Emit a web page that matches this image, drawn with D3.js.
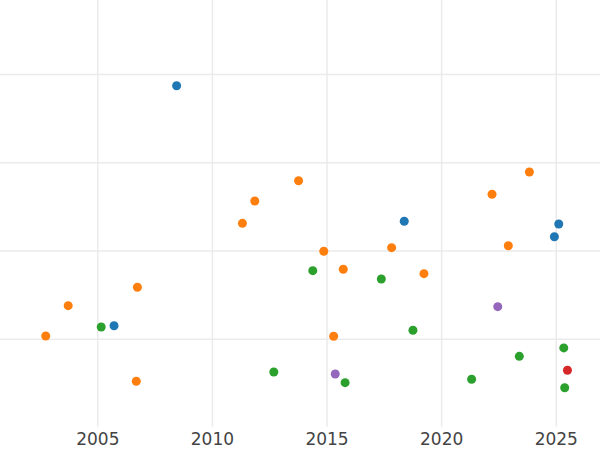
<!DOCTYPE html>
<html><head><meta charset="utf-8">
<script src="https://cdn.jsdelivr.net/npm/d3@7"></script>
<style>html,body{margin:0;padding:0;background:#fff;}svg{display:block;}</style>
</head><body>
<svg id="chart" width="600" height="450"></svg>
<script>
const seriesNames = ["A","B","C","D","E"];
const seriesColors = ["#1f77b4","#ff7f0e","#2ca02c","#d62728","#9467bd"];
const blueX = [2008.46, 2005.73, 2018.39, 2025.13, 2024.94];
const blueY = [2.868, 0.147, 1.331, 1.300, 1.156];
const orangeX = [2002.75, 2003.73, 2006.75, 2006.70, 2011.33, 2011.87, 2013.78, 2014.88, 2015.31, 2015.73, 2017.84, 2019.25, 2022.22, 2022.93, 2023.85];
const orangeY = [0.031, 0.374, 0.583, -0.483, 1.308, 1.561, 1.791, 0.991, 0.027, 0.787, 1.032, 0.737, 1.637, 1.054, 1.890];
const greenX = [2005.17, 2012.70, 2014.40, 2015.81, 2017.39, 2018.77, 2021.33, 2023.41, 2025.35, 2025.39];
const greenY = [0.133, -0.378, 0.771, -0.499, 0.677, 0.095, -0.460, -0.200, -0.105, -0.556];
const redX = [2025.51];
const redY = [-0.358];
const purpleX = [2015.38, 2022.47];
const purpleY = [-0.400, 0.363];
const xTicks = [2005, 2010, 2015, 2020, 2025];
const yTicks = [0, 1, 2, 3];

const seriesX = [blueX, orangeX, greenX, redX, purpleX];
const seriesY = [blueY, orangeY, greenY, redY, purpleY];

const W = 600, H = 450, plotBottom = 426.7;
const svg = d3.select("#chart");
const x = d3.scaleLinear().domain([2000.755, 2026.93]).range([0, W]);
const y = d3.scaleLinear().domain([-0.998, 3.84]).range([plotBottom, 0]);

// grid
const gx = svg.append("g").attr("transform", `translate(0,${plotBottom})`)
  .call(d3.axisBottom(x).tickValues(xTicks).tickFormat(d3.format("d")).tickSize(-plotBottom).tickPadding(6));
gx.select(".domain").remove();
gx.selectAll(".tick line").attr("stroke", "#ebebeb").attr("stroke-width", 1.5);
gx.selectAll(".tick text").attr("fill", "#444").attr("font-family", "DejaVu Sans, sans-serif").attr("font-size", 17);

const gy = svg.append("g")
  .call(d3.axisRight(y).tickValues(yTicks).tickSize(W).tickFormat(""));
gy.select(".domain").remove();
gy.selectAll(".tick line").attr("stroke", "#ebebeb").attr("stroke-width", 1.5);

// points
seriesNames.forEach((name, i) => {
  const pts = seriesX[i].map((v, j) => ({x: v, y: seriesY[i][j]}));
  svg.append("g").selectAll("circle").data(pts).join("circle")
    .attr("cx", d => x(d.x)).attr("cy", d => y(d.y)).attr("r", 4.5)
    .attr("fill", seriesColors[i]);
});
</script>
</body></html>
